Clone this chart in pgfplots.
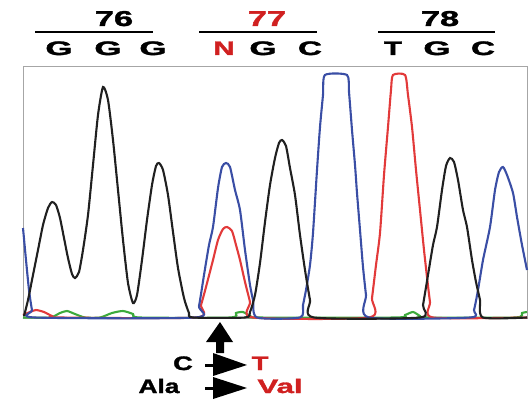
\documentclass[border=0pt]{standalone}
\usepackage{pgfplots}
\pgfplotsset{compat=1.18}
\usepackage{graphicx}
\usepackage{fontspec}
\setmainfont{Liberation Sans}[BoldFeatures={FakeBold=1.5}]

\definecolor{trA}{RGB}{32,32,32}
\definecolor{trC}{RGB}{58,78,165}
\definecolor{trT}{RGB}{226,58,58}
\definecolor{trG}{RGB}{60,170,60}
\definecolor{mut}{RGB}{208,32,32}
\tikzset{big/.style={anchor=base, inner sep=0pt, font=\fontsize{19.5}{19.5}\selectfont\bfseries}}
\newcommand{\wide}[2]{\scalebox{#1}[1]{#2}}

\begin{document}
\begin{tikzpicture}
\begin{axis}[
    x=1pt, y=1pt,
    y dir=reverse,
    xmin=23, xmax=527,
    ymin=66, ymax=318,
    xtick=\empty, ytick=\empty,
    axis line style={draw=gray!70, line width=0.9pt},
    clip=false,
]

% trace colours: black = G, blue = C, red = T, green = A
\addplot[trG, line width=2.1pt, smooth, tension=0.4] coordinates {
    (23,317.5) (50,317.5) (60,313) (67,311) (75,314) (85,317.5) (100,317.5)
    (112,313) (123,311) (133,314) (140,317.5) (230,317.5) (236,313) (243,312)
    (250,316) (256,317.5) (395,317.5) (405,315) (413,312) (420,316) (425,317.5)
    (515,317.5) (522,313) (527,312)
};

\addplot[trT, line width=2.1pt, smooth, tension=0.4] coordinates {
    (23,315) (30,312) (36,310) (44,312) (52,316) (60,317.5) (196,317.5)
    (201,305) (206,287) (213,260) (218,240) (223,229) (227,227) (232,231)
    (236,245) (240,260) (245,282) (250,302) (253,317.5) (369,317.5)
    (372,298) (376,265) (380,233) (384,175) (388,127) (391,90) (393,75)
    (405,75) (408,95) (412,127) (416,170) (420,210) (424,250) (427,277)
    (430,302) (433,317.5) (527,317.5)
};

\addplot[trC, line width=2.1pt, smooth, tension=0.4] coordinates {
    (23,228) (26,260) (29,290) (32,310) (35,317.5) (195,317.5) (199,306)
    (204,275) (209,245) (213,227) (218,188) (222,167) (226,163) (230,167)
    (235,190) (240,210) (245,250) (250,285) (253,300) (257,317.5) (300,317.5)
    (303,305) (306,290) (310,265) (313,233) (317,170) (320,127) (323,95)
    (325,75) (347,75) (349,92) (352,130) (355,165) (357,193) (360,230)
    (363,267) (366,295) (369,317.5) (470,317.5) (474,310) (478,290) (483,260)
    (490,227) (495,190) (499,172) (503,167) (507,175) (513,193) (517,217)
    (522,245) (527,270)
};

\addplot[trA, line width=2.1pt, smooth, tension=0.4] coordinates {
    (24,316) (28,300) (33,275) (38,250) (43,225) (48,208) (52,202) (56,205)
    (60,218) (64,238) (68,258) (72,274) (75,278) (79,272) (83,250) (88,215)
    (93,165) (98,115) (103,87) (108,100) (113,140) (118,190) (123,240)
    (128,283) (133,303) (137,295) (142,260) (147,220) (152,185) (156,166)
    (159,163) (163,170) (168,195) (173,232) (178,268) (184,298) (189,313)
    (193,317.5) (245,317.5) (250,312) (255,295) (260,263) (265,222) (270,185)
    (275,158) (279,143) (282,140) (286,146) (290,168) (295,195) (300,235)
    (305,270) (310,300) (314,317.5) (420,317.5) (423,305) (428,275)
    (433,245) (437,227) (442,190) (446,166) (450,158) (454,162) (458,180)
    (463,210) (467,227) (472,260) (476,282) (480,300) (483,317.5) (527,317.5)
};

% codon labels
\node[big, font=\fontsize{21.5}{21.5}\selectfont\bfseries] at (axis cs:114,26) {\wide{1.6}{76}};
\node[big, font=\fontsize{21.5}{21.5}\selectfont\bfseries, text=mut] at (axis cs:267,26) {\wide{1.6}{77}};
\node[big, font=\fontsize{21.5}{21.5}\selectfont\bfseries] at (axis cs:440,26) {\wide{1.6}{78}};
\draw[line width=2.2pt] (axis cs:35,32) -- (axis cs:153,32);
\draw[line width=2.2pt] (axis cs:199,32) -- (axis cs:317,32);
\draw[line width=2.2pt] (axis cs:378,32) -- (axis cs:495,32);
\node[big] at (axis cs:59,55) {\wide{1.8}{G}};
\node[big] at (axis cs:108,55) {\wide{1.8}{G}};
\node[big] at (axis cs:153,55) {\wide{1.8}{G}};
\node[big, text=mut] at (axis cs:224,55) {\wide{1.5}{N}};
\node[big] at (axis cs:263,55) {\wide{1.8}{G}};
\node[big] at (axis cs:310,55) {\wide{1.7}{C}};
\node[big] at (axis cs:393,55) {\wide{1.5}{T}};
\node[big] at (axis cs:437,55) {\wide{1.8}{G}};
\node[big] at (axis cs:483,55) {\wide{1.7}{C}};

% arrows and substitution
\fill (axis cs:220,322) -- (axis cs:233,342) -- (axis cs:224,342) -- (axis cs:224,353)
   -- (axis cs:216,353) -- (axis cs:216,342) -- (axis cs:206,342) -- cycle;
\fill (axis cs:205,363.5) rectangle (axis cs:214,366.5);
\fill (axis cs:213,353) -- (axis cs:247,365) -- (axis cs:213,376) -- cycle;
\fill (axis cs:205,386.5) rectangle (axis cs:214,389.5);
\fill (axis cs:213,377) -- (axis cs:247,388) -- (axis cs:213,399) -- cycle;
\node[big] at (axis cs:183,370) {\wide{1.4}{C}};
\node[big, text=mut] at (axis cs:260,370) {\wide{1.4}{T}};
\node[big] at (axis cs:159,393) {\wide{1.35}{Ala}};
\node[big, text=mut] at (axis cs:280,393) {\wide{1.6}{Val}};

\coordinate (bl) at (axis cs:0,401);
\coordinate (tr) at (axis cs:532,0);
\end{axis}
\pgfresetboundingbox
\path (bl) rectangle (tr);
\end{tikzpicture}
\end{document}
